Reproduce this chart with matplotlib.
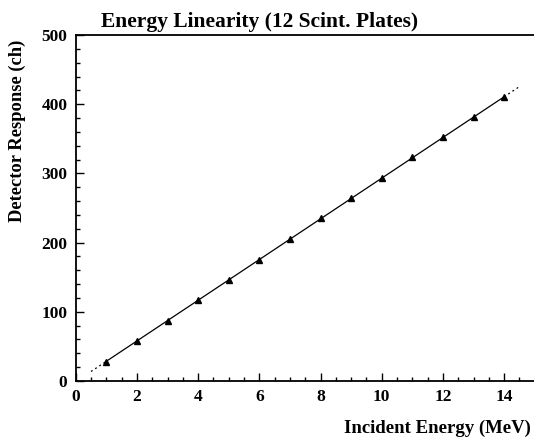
import numpy as np
import matplotlib
matplotlib.use("Agg")
import matplotlib.pyplot as plt
from matplotlib.ticker import MultipleLocator

# measured response per incident energy
energy_mev = [1, 2, 3, 4, 5, 6, 7, 8, 9, 10, 11, 12, 13, 14]
response_ch = [28, 58, 87, 117, 146, 175, 205, 235, 264, 293, 323, 352, 381, 410]
x_ticks = [0, 2, 4, 6, 8, 10, 12, 14]
y_ticks = [0, 100, 200, 300, 400, 500]

plt.rcParams["font.family"] = ["Liberation Serif", "DejaVu Serif"]
plt.rcParams["font.weight"] = "bold"

fig = plt.figure(figsize=(5.34, 4.38), dpi=100)
W, H = 534, 438
# frame runs off the right edge of the canvas
ax = fig.add_axes([75.7 / W, 57 / H, 16 * 30.6 / W, 346 / H])

# linear fit, solid over the data and dashed beyond it
slope, icpt = np.polyfit(energy_mev, response_ch, 1)
xf = np.array([energy_mev[0], energy_mev[-1]])
ax.plot(xf, slope * xf + icpt, color="black", lw=0.9)
for seg in ([0.5, energy_mev[0]], [energy_mev[-1], 14.5]):
    seg = np.array(seg)
    ax.plot(seg, slope * seg + icpt, color="black", lw=0.9, ls=(0, (1.5, 2.5)))

ax.plot(energy_mev, response_ch, ls="none", marker="^", ms=4.2,
        color="black", mec="black")

ax.set_xlim(0, 16)
ax.set_ylim(0, 500)
ax.set_xticks(x_ticks)
ax.set_yticks(y_ticks)
ax.xaxis.set_minor_locator(MultipleLocator(0.5))
ax.yaxis.set_minor_locator(MultipleLocator(20))
ax.tick_params(which="both", direction="in", top=False, right=False,
               labelsize=12.5, width=1)
ax.tick_params(which="major", length=6, pad=6)
ax.tick_params(which="minor", length=3)
for s in ax.spines.values():
    s.set_linewidth(1.3)
for lab in ax.get_xticklabels() + ax.get_yticklabels():
    lab.set_fontweight("bold")

fig.text(260 / W, 1 - 22 / H, "Energy Linearity (12 Scint. Plates)",
         ha="center", va="center", fontsize=15.5, fontweight="bold")
fig.text(17 / W, 1 - 131 / H, "Detector Response (ch)", rotation=90,
         ha="center", va="center", fontsize=13.3, fontweight="bold")
fig.text(531 / W, 1 - 428 / H, "Incident Energy (MeV)",
         ha="right", va="center", fontsize=13.5, fontweight="bold")

fig.savefig("out.png", dpi=100)
